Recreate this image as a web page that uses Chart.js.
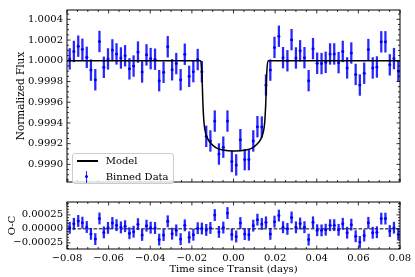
<!DOCTYPE html>
<html>
<head>
<meta charset="utf-8">
<script src="https://cdn.jsdelivr.net/npm/chart.js@4.4.0/dist/chart.umd.min.js"></script>
<style>
body { margin:0; background:#fff; }
#wrap { position:relative; width:415px; height:277px; overflow:hidden; }
canvas { position:absolute; left:0; }
#legend {
  position:absolute; left:72px; top:153px; width:102px; height:31px;
  box-sizing:border-box; border:1px solid #cccccc; border-radius:3px;
  background:rgba(255,255,255,0.8);
  font-family:'DejaVu Serif', serif; font-size:10px; line-height:12px; color:#000;
}
#legend .t { position:absolute; left:32.7px; white-space:nowrap; }
#legend .ln { position:absolute; left:3.7px; top:6px; width:21.6px; height:1.5px; background:#000; }
#legend .eb { position:absolute; left:12.9px; top:16.7px; width:1.6px; height:12.6px; background:rgba(0,0,255,0.85); }
#legend .dot { position:absolute; left:12.2px; top:21.2px; width:3px; height:3px; border-radius:50%; background:#0000ff; }
</style>
</head>
<body>
<div id="wrap">
<canvas id="fluxChart" width="415" height="192" style="top:0"></canvas>
<canvas id="ocChart" width="415" height="85" style="top:192px"></canvas>
<div id="legend">
  <span class="ln"></span><span class="t" style="top:0.5px">Model</span>
  <span class="eb"></span><span class="dot"></span><span class="t" style="top:16.7px">Binned Data</span>
</div>
</div>
<script>
// binned light curve
const times = [
  -0.0787, -0.0767, -0.0746, -0.0726, -0.0705, -0.0685, -0.0664, -0.0644, -0.0623, -0.0603,
  -0.0582, -0.0562, -0.0541, -0.0521, -0.0500, -0.0480, -0.0459, -0.0439, -0.0418, -0.0398,
  -0.0377, -0.0357, -0.0336, -0.0316, -0.0295, -0.0275, -0.0254, -0.0234, -0.0213, -0.0193,
  -0.0172, -0.0152, -0.0131, -0.0111, -0.0090, -0.0070, -0.0049, -0.0029, -0.0008, 0.0013,
  0.0033, 0.0054, 0.0074, 0.0095, 0.0115, 0.0136, 0.0156, 0.0177, 0.0197, 0.0218,
  0.0238, 0.0259, 0.0279, 0.0300, 0.0320, 0.0341, 0.0361, 0.0382, 0.0402, 0.0423,
  0.0443, 0.0464, 0.0484, 0.0505, 0.0525, 0.0546, 0.0566, 0.0587, 0.0607, 0.0628,
  0.0648, 0.0669, 0.0689, 0.0710, 0.0730, 0.0751, 0.0771, 0.0792
];
const flux = [
  1.000018, 1.000090, 1.000141, 1.000111, 1.000033, 0.999910, 0.999817, 1.000186, 0.999937, 1.000018,
  1.000105, 1.000066, 1.000027, 1.000048, 0.999922, 0.999949, 1.000084, 0.999892, 1.000057, 1.000021,
  1.000015, 0.999808, 0.999889, 1.000135, 0.999913, 0.999973, 0.999817, 1.000063, 0.999850, 0.999895,
  1.000012, 0.999895, 0.999271, 0.999226, 0.999418, 0.999100, 0.999166, 0.999418, 0.999028, 0.998995,
  0.999238, 0.999046, 0.999046, 0.999226, 0.999364, 0.999360, 0.999766, 0.999910, 1.000129, 1.000237,
  1.000030, 1.000000, 1.000204, 1.000027, 1.000096, 1.000030, 0.999808, 1.000117, 0.999976, 0.999973,
  0.999985, 1.000066, 1.000066, 0.999982, 1.000090, 0.999931, 1.000075, 0.999868, 0.999766, 0.999880,
  1.000108, 0.999931, 0.999940, 1.000183, 1.000183, 0.999961, 1.000021, 0.999901
];
const residuals = [
  0.000018, 0.000090, 0.000141, 0.000111, 0.000033, -0.000090, -0.000183, 0.000186, -0.000063, 0.000018,
  0.000105, 0.000066, 0.000027, 0.000048, -0.000078, -0.000051, 0.000084, -0.000108, 0.000057, 0.000021,
  0.000015, -0.000192, -0.000111, 0.000135, -0.000087, -0.000027, -0.000183, 0.000063, -0.000150, -0.000105,
  0.000012, 0.000006, -0.000019, 0.000016, 0.000246, -0.000054, 0.000023, 0.000283, -0.000103, -0.000136,
  0.000104, -0.000094, -0.000106, 0.000058, 0.000165, 0.000087, 0.000116, -0.000090, 0.000129, 0.000237,
  0.000030, 0.000000, 0.000204, 0.000027, 0.000096, 0.000030, -0.000192, 0.000117, -0.000024, -0.000027,
  -0.000015, 0.000066, 0.000066, -0.000018, 0.000090, -0.000069, 0.000075, -0.000132, -0.000234, -0.000120,
  0.000108, -0.000069, -0.000060, 0.000183, 0.000183, -0.000039, 0.000021, -0.000099
];
const binErr = 0.0001;

// transit model curve
const modelTime = [
  -0.08, -0.0158, -0.0152, -0.0147, -0.0142, -0.0136, -0.0123, -0.0107, -0.0083, -0.0051,
  0.0004, 0.0059, 0.0091, 0.0115, 0.0131, 0.0144, 0.0150, 0.0155, 0.0160, 0.0166, 0.08
];
const modelFlux = [
  1.0, 1.0, 0.999889, 0.999589, 0.999409, 0.999319, 0.999244, 0.999199, 0.999160, 0.999139,
  0.999130, 0.999139, 0.999160, 0.999199, 0.999244, 0.999319, 0.999409, 0.999589, 0.999889, 1.0, 1.0
];

const timeTicks = [-0.08, -0.06, -0.04, -0.02, 0.0, 0.02, 0.04, 0.06, 0.08];
const fluxTicks = [0.9990, 0.9992, 0.9994, 0.9996, 0.9998, 1.0000, 1.0002, 1.0004];
const ocTicks = [-0.00025, 0.0, 0.00025];

Chart.defaults.font.family = "'DejaVu Serif', serif";
Chart.defaults.font.size = 10;
Chart.defaults.color = '#000';

function minorsOf(majors, n) {
  const step = majors[1] - majors[0];
  const all = [majors[0] - step].concat(majors, [majors[majors.length - 1] + step]);
  const out = [];
  for (let i = 0; i < all.length - 1; i++) {
    for (let k = 1; k < n; k++) out.push(all[i] + k * step / n);
  }
  return out;
}

function fmtMinus(v, d) {
  const s = Math.abs(v).toFixed(d);
  return (v < -1e-12 ? '\u2212' : '') + s;
}

// frame + inward ticks on all four sides, like matplotlib
const boxTicks = {
  id: 'boxTicks',
  afterDatasetsDraw(chart, args, o) {
    const {ctx, chartArea: a} = chart;
    const xs = chart.scales.x, ys = chart.scales.y;
    ctx.save();
    ctx.strokeStyle = '#000';
    ctx.lineWidth = 0.8;
    ctx.beginPath();
    const xMark = (v, len) => {
      const px = xs.getPixelForValue(v);
      if (px < a.left - 0.5 || px > a.right + 0.5) return;
      ctx.moveTo(px, a.bottom); ctx.lineTo(px, a.bottom - len);
      ctx.moveTo(px, a.top); ctx.lineTo(px, a.top + len);
    };
    const yMark = (v, len) => {
      const py = ys.getPixelForValue(v);
      if (py < a.top - 0.5 || py > a.bottom + 0.5) return;
      ctx.moveTo(a.left, py); ctx.lineTo(a.left + len, py);
      ctx.moveTo(a.right, py); ctx.lineTo(a.right - len, py);
    };
    o.xMajor.forEach(v => xMark(v, 3.5));
    o.xMinor.forEach(v => xMark(v, 2));
    o.yMajor.forEach(v => yMark(v, 3.5));
    o.yMinor.forEach(v => yMark(v, 2));
    ctx.stroke();
    ctx.lineWidth = 1;
    ctx.strokeRect(a.left, a.top, a.width, a.height);
    ctx.restore();
  }
};

const errColor = 'rgba(0,0,255,0.85)';

new Chart(document.getElementById('fluxChart'), {
  type: 'scatter',
  data: {
    datasets: [
      {
        type: 'line',
        label: 'Model',
        data: modelTime.map((t, i) => ({x: t, y: modelFlux[i]})),
        borderColor: '#000',
        borderWidth: 1.5,
        pointRadius: 0,
        cubicInterpolationMode: 'monotone',
        order: 0
      },
      {
        type: 'bar',
        label: 'err',
        data: times.map((t, i) => ({x: t, y: [flux[i] - binErr, flux[i] + binErr]})),
        backgroundColor: errColor,
        borderWidth: 0,
        barThickness: 1.6,
        grouped: false,
        order: 2
      },
      {
        label: 'Binned Data',
        data: times.map((t, i) => ({x: t, y: flux[i]})),
        backgroundColor: '#0000ff',
        borderWidth: 0,
        pointRadius: 1.5,
        order: 1
      }
    ]
  },
  options: {
    responsive: false,
    animation: false,
    events: [],
    layout: {padding: {left: 0, right: 15, top: 5, bottom: 2}},
    plugins: {
      legend: {display: false},
      tooltip: {enabled: false},
      boxTicks: {
        xMajor: timeTicks, xMinor: minorsOf(timeTicks, 4),
        yMajor: fluxTicks, yMinor: minorsOf(fluxTicks, 4)
      }
    },
    scales: {
      x: {
        type: 'linear', min: -0.08, max: 0.08, offset: false,
        grid: {display: false, drawTicks: false},
        border: {display: false},
        ticks: {display: false},
        afterFit: s => { s.height = 0; }
      },
      y: {
        min: 0.99883, max: 1.00049,
        grid: {display: false, drawTicks: false},
        border: {display: false},
        ticks: {padding: 4, callback: v => v.toFixed(4)},
        afterBuildTicks: s => { s.ticks = fluxTicks.map(v => ({value: v})); },
        afterFit: s => { s.width = 67; },
        title: {display: true, text: 'Normalized Flux', font: {size: 10.5}, padding: {top: 15, bottom: 0}}
      }
    }
  },
  plugins: [boxTicks]
});

new Chart(document.getElementById('ocChart'), {
  type: 'scatter',
  data: {
    datasets: [
      {
        type: 'line',
        data: [{x: -0.08, y: 0}, {x: 0.08, y: 0}],
        borderColor: '#000',
        borderWidth: 1,
        borderDash: [3.7, 1.6],
        pointRadius: 0,
        order: 3
      },
      {
        type: 'bar',
        data: times.map((t, i) => ({x: t, y: [residuals[i] - binErr, residuals[i] + binErr]})),
        backgroundColor: errColor,
        borderWidth: 0,
        barThickness: 1.6,
        grouped: false,
        order: 2
      },
      {
        data: times.map((t, i) => ({x: t, y: residuals[i]})),
        backgroundColor: '#0000ff',
        borderWidth: 0,
        pointRadius: 1.5,
        order: 1
      }
    ]
  },
  options: {
    responsive: false,
    animation: false,
    events: [],
    layout: {padding: {left: 0, right: 15, top: 5, bottom: 0}},
    plugins: {
      legend: {display: false},
      tooltip: {enabled: false},
      boxTicks: {
        xMajor: timeTicks, xMinor: minorsOf(timeTicks, 4),
        yMajor: ocTicks, yMinor: minorsOf(ocTicks, 5)
      }
    },
    scales: {
      x: {
        type: 'linear', min: -0.08, max: 0.08, offset: false,
        grid: {display: false, drawTicks: false},
        border: {display: false},
        ticks: {padding: 3, maxRotation: 0, callback: v => fmtMinus(v, 2)},
        afterBuildTicks: s => { s.ticks = timeTicks.map(v => ({value: v})); },
        afterFit: s => { s.height = 28; },
        title: {display: true, text: 'Time since Transit (days)', padding: {top: 0, bottom: 2}}
      },
      y: {
        min: -0.00036, max: 0.00048,
        grid: {display: false, drawTicks: false},
        border: {display: false},
        ticks: {padding: 4, callback: v => fmtMinus(v, 5)},
        afterBuildTicks: s => { s.ticks = ocTicks.map(v => ({value: v})); },
        afterFit: s => { s.width = 67; },
        title: {display: true, text: 'O-C', padding: {top: 6, bottom: 0}}
      }
    }
  },
  plugins: [boxTicks]
});
</script>
</body>
</html>
